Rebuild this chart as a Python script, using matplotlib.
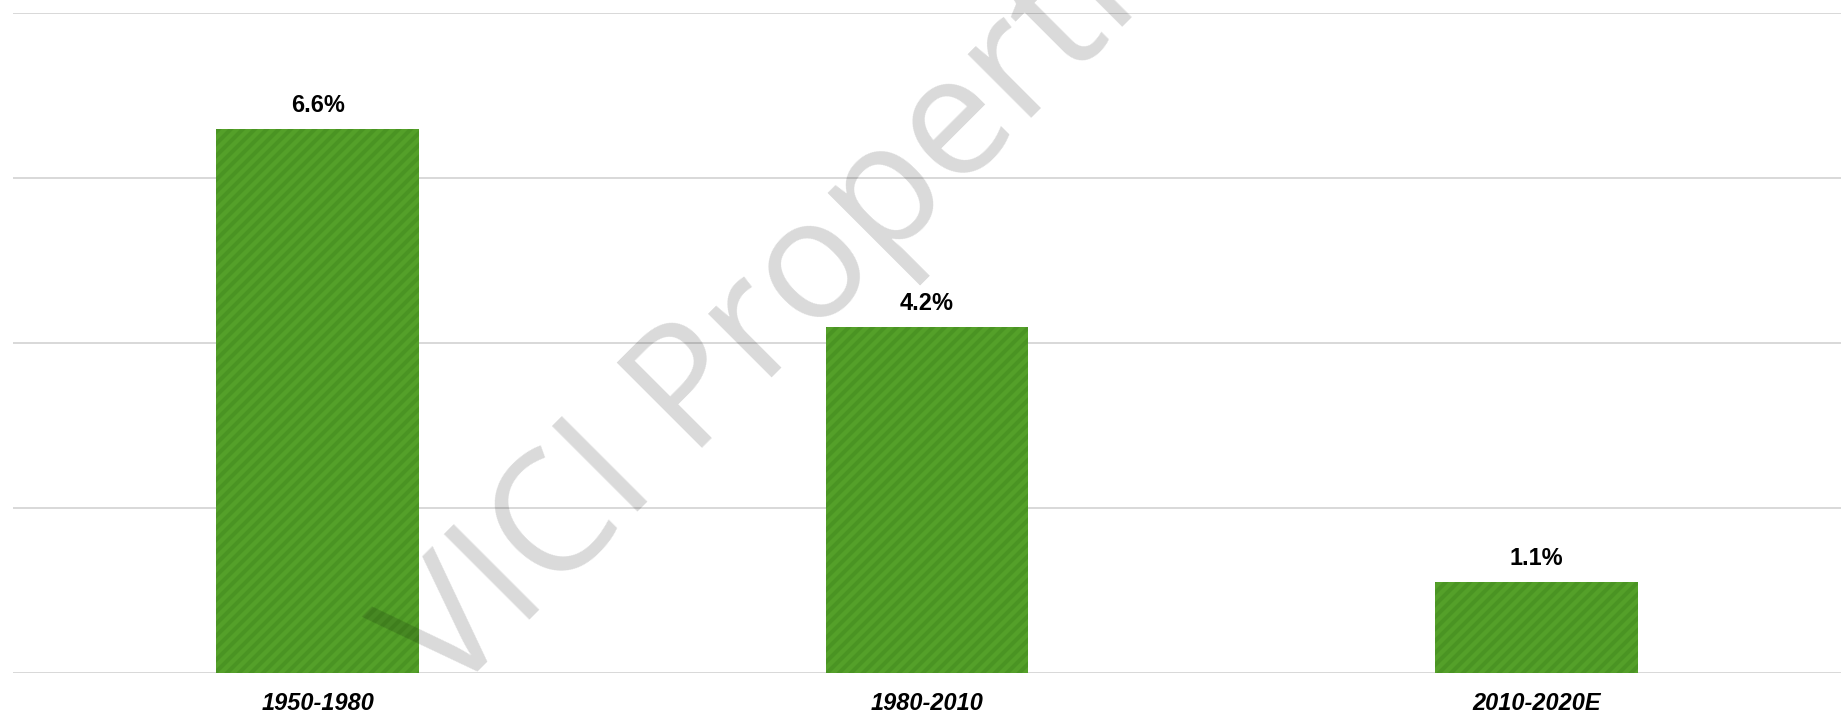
import matplotlib
matplotlib.use("Agg")
import matplotlib.pyplot as plt

# ---- data ----
categories = ["1950-1980", "1980-2010", "2010-2020E"]
growth = [6.6, 4.2, 1.1]
value_labels = ["6.6%", "4.2%", "1.1%"]
watermark = "VICI Properties"

DPI = 72
W, H = 1841, 714
PT = 72.0 / DPI  # pixels -> points

plt.rcParams['font.family'] = ['Liberation Sans', 'DejaVu Sans']
plt.rcParams['hatch.linewidth'] = 4.0 * PT

fig = plt.figure(figsize=(W / DPI, H / DPI), dpi=DPI)
ax = fig.add_axes([13 / W, (H - 673) / H, (W - 13) / W, 660 / H])

x = list(range(len(categories)))
bars = ax.bar(x, growth, width=0.333, color='#54A029', edgecolor='#4A9423',
              linewidth=0, hatch='//', zorder=2)

for xi, v, lab in zip(x, growth, value_labels):
    ax.annotate(lab, (xi, v), xytext=(0, 17 * PT), textcoords='offset points',
                ha='center', va='baseline', fontsize=23.5 * PT,
                fontweight='bold', color='black', zorder=3)

ax.set_xlim(-0.5, 2.5)
ax.set_ylim(0, 8)
ax.set_yticks([0, 2, 4, 6, 8])
ax.yaxis.grid(True, color='#D9D9D9', linewidth=2 * PT, zorder=0)
ax.set_axisbelow(True)
ax.tick_params(axis='y', left=False, labelleft=False)
ax.tick_params(axis='x', length=0, pad=18.5 * PT)
ax.set_xticks(x)
ax.set_xticklabels(categories, fontsize=23.5 * PT, fontweight='bold',
                   fontstyle='italic')
for s in ax.spines.values():
    s.set_visible(False)

# watermark
fig.text(448 / W, 1 - 702 / H, watermark, rotation=45, rotation_mode='anchor',
         ha='left', va='baseline', fontsize=168 * PT, color='black',
         family=['Open Sans', 'DejaVu Sans'], alpha=0.15, zorder=10)

fig.savefig("out.png", dpi=DPI)
